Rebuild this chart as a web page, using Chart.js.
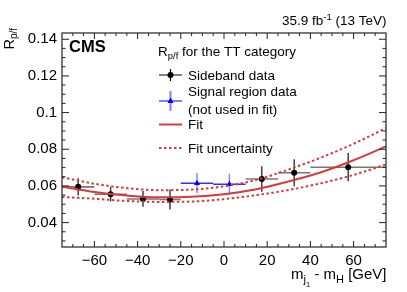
<!DOCTYPE html>
<html>
<head>
<meta charset="utf-8">
<script src="https://cdn.jsdelivr.net/npm/chart.js@4.4.0/dist/chart.umd.min.js"></script>
<style>
  html, body { margin: 0; padding: 0; background: #fff; }
</style>
</head>
<body>
<canvas id="chart" width="407" height="292"></canvas>
<script>
// sideband data (used in the fit): bin edges, centres, R_p/f and stat. error
const sbLow  = [-75, -60, -45, -30, 10, 25, 40];
const sbHigh = [-60, -45, -30, -20, 25, 40, 75];
const sbX    = [-67.5, -52.5, -37.5, -25, 17.5, 32.5, 57.5];
const sbY    = [0.0595, 0.0555, 0.0529, 0.0526, 0.0638, 0.0672, 0.0702];
const sbErr  = [0.0047, 0.0040, 0.0043, 0.0054, 0.0070, 0.0074, 0.0077];

// signal region data (not used in fit)
const srLow  = [-20, -5];
const srHigh = [-5, 10];
const srX    = [-12.5, 2.5];
const srY    = [0.0615, 0.0609];
const srErr  = [0.0055, 0.0058];

const fitX    = [-75, -60, -45, -30, -15, 0, 15, 30, 45, 60, 75];
const fitY    = [0.0596, 0.0567, 0.0548, 0.0538, 0.0541, 0.0555, 0.0582, 0.0625, 0.0675, 0.0740, 0.0815];
const fitUp   = [0.0647, 0.0612, 0.0588, 0.0577, 0.0580, 0.0598, 0.0633, 0.0690, 0.0755, 0.0830, 0.0915];
const fitDown = [0.0540, 0.0530, 0.0518, 0.0513, 0.0515, 0.0528, 0.0550, 0.0578, 0.0615, 0.0660, 0.0717];

const xTicks = [-60, -40, -20, 0, 20, 40, 60];
const yTicks = [0.04, 0.06, 0.08, 0.1, 0.12, 0.14];

const FONT = "'Liberation Sans', Arial, Helvetica, sans-serif";
const RED = '#d83a3a';

const pts = (xs, ys) => xs.map((x, i) => ({ x: x, y: ys[i] }));

// draw a run of text pieces (sub/superscripts) starting at x
function richText(ctx, parts, x, y, align) {
  let w = 0;
  parts.forEach(p => { ctx.font = (p.bold ? 'bold ' : '') + p.size + 'px ' + FONT; w += ctx.measureText(p.t).width; });
  let cx = align === 'right' ? x - w : x;
  parts.forEach(p => {
    ctx.font = (p.bold ? 'bold ' : '') + p.size + 'px ' + FONT;
    ctx.fillText(p.t, cx, y + (p.dy || 0));
    cx += ctx.measureText(p.t).width;
  });
}

function errorBars(ctx, xs, ys, lo, hi, xv, yv, err, hCol, vCol) {
  for (let i = 0; i < xv.length; i++) {
    const py = ys.getPixelForValue(yv[i]);
    ctx.strokeStyle = hCol;
    ctx.lineWidth = 1.6;
    ctx.beginPath();
    ctx.moveTo(xs.getPixelForValue(lo[i]), py);
    ctx.lineTo(xs.getPixelForValue(hi[i]), py);
    ctx.stroke();
    const px = xs.getPixelForValue(xv[i]);
    ctx.strokeStyle = vCol;
    ctx.lineWidth = 1.4;
    ctx.beginPath();
    ctx.moveTo(px, ys.getPixelForValue(yv[i] + err[i]));
    ctx.lineTo(px, ys.getPixelForValue(yv[i] - err[i]));
    ctx.stroke();
  }
}

const decor = {
  id: 'decor',
  beforeDatasetsDraw(chart) {
    const { ctx, scales: { x, y } } = chart;
    ctx.save();
    errorBars(ctx, x, y, sbLow, sbHigh, sbX, sbY, sbErr, '#777', '#333');
    errorBars(ctx, x, y, srLow, srHigh, srX, srY, srErr, '#3030ff', '#7f7fff');
    ctx.restore();
  },
  afterDraw(chart) {
    const { ctx, chartArea: a, scales: { x, y } } = chart;
    ctx.save();

    // frame and inward ticks on all four sides
    ctx.strokeStyle = '#222';
    ctx.lineWidth = 1.2;
    ctx.strokeRect(a.left, a.top, a.right - a.left, a.bottom - a.top);
    ctx.lineWidth = 1;
    ctx.beginPath();
    for (let v = -70; v <= 70; v += 5) {
      const px = x.getPixelForValue(v);
      const len = v % 20 === 0 ? 6 : 3;
      ctx.moveTo(px, a.bottom); ctx.lineTo(px, a.bottom - len);
      ctx.moveTo(px, a.top); ctx.lineTo(px, a.top + len);
    }
    for (let k = 6; k <= 28; k++) {
      const v = k * 0.005;
      const py = y.getPixelForValue(v);
      const len = k % 4 === 0 ? 7 : 3.5;
      ctx.moveTo(a.left, py); ctx.lineTo(a.left + len, py);
      ctx.moveTo(a.right, py); ctx.lineTo(a.right - len, py);
    }
    ctx.stroke();

    ctx.fillStyle = '#000';
    ctx.textBaseline = 'alphabetic';

    // CMS label and luminosity
    richText(ctx, [{ t: 'CMS', size: 16.5, bold: true }], 69, 52, 'left');
    richText(ctx, [
      { t: '35.9 fb', size: 13.5 },
      { t: '-1', size: 9.5, dy: -5 },
      { t: ' (13 TeV)', size: 13.5 }
    ], 386.5, 25, 'right');

    // axis titles
    richText(ctx, [
      { t: 'm', size: 15 },
      { t: 'j', size: 11, dy: 4 },
      { t: '1', size: 7.5, dy: 8 },
      { t: ' - m', size: 15 },
      { t: 'H', size: 11, dy: 4 },
      { t: ' [GeV]', size: 15 }
    ], 386.5, 279, 'right');
    ctx.save();
    ctx.translate(14, 28);
    ctx.rotate(-Math.PI / 2);
    richText(ctx, [{ t: 'R', size: 14.5 }, { t: 'p/f', size: 10, dy: 3 }], 0, 0, 'right');
    ctx.restore();

    // legend
    const lx0 = 159, lx1 = 182, lxm = 170.5, tx = 188;
    richText(ctx, [
      { t: 'R', size: 13.5 },
      { t: 'p/f', size: 9.5, dy: 3 },
      { t: ' for the TT category', size: 13.5 }
    ], 158, 56, 'left');

    ctx.strokeStyle = '#000';
    ctx.lineWidth = 1.2;
    ctx.beginPath();
    ctx.moveTo(lx0, 75); ctx.lineTo(lx1, 75);
    ctx.moveTo(lxm, 69); ctx.lineTo(lxm, 81);
    ctx.stroke();
    ctx.beginPath(); ctx.arc(lxm, 75, 3, 0, Math.PI * 2); ctx.fill();
    richText(ctx, [{ t: 'Sideband data', size: 13.5 }], tx, 79.5, 'left');

    ctx.strokeStyle = '#7f7fff';
    ctx.lineWidth = 2;
    ctx.beginPath();
    ctx.moveTo(lx0, 101); ctx.lineTo(lx1, 101);
    ctx.moveTo(lxm, 91); ctx.lineTo(lxm, 111);
    ctx.stroke();
    ctx.fillStyle = '#0000ff';
    ctx.beginPath();
    ctx.moveTo(lxm, 97.5); ctx.lineTo(lxm + 3, 103); ctx.lineTo(lxm - 3, 103); ctx.closePath();
    ctx.fill();
    ctx.fillStyle = '#000';
    richText(ctx, [{ t: 'Signal region data', size: 13.5 }], tx, 95.5, 'left');
    richText(ctx, [{ t: '(not used in fit)', size: 13.5 }], tx, 113.5, 'left');

    ctx.strokeStyle = RED;
    ctx.lineWidth = 2;
    ctx.beginPath(); ctx.moveTo(lx0, 124.5); ctx.lineTo(lx1, 124.5); ctx.stroke();
    richText(ctx, [{ t: 'Fit', size: 13.5 }], tx, 129, 'left');

    ctx.setLineDash([2.5, 2.5]);
    ctx.beginPath(); ctx.moveTo(lx0, 148); ctx.lineTo(lx1, 148); ctx.stroke();
    ctx.setLineDash([]);
    richText(ctx, [{ t: 'Fit uncertainty', size: 13.5 }], tx, 152.5, 'left');

    ctx.restore();
  }
};

const tickFont = { family: FONT, size: 15 };

new Chart(document.getElementById('chart'), {
  type: 'scatter',
  data: {
    datasets: [
      {
        label: 'Fit', data: pts(fitX, fitY), showLine: true, order: 1,
        borderColor: RED, borderWidth: 2, pointRadius: 0,
        cubicInterpolationMode: 'monotone'
      },
      {
        label: 'Fit uncertainty (up)', data: pts(fitX, fitUp), showLine: true, order: 1,
        borderColor: RED, borderWidth: 2, borderDash: [2.5, 2.5], pointRadius: 0,
        cubicInterpolationMode: 'monotone'
      },
      {
        label: 'Fit uncertainty (down)', data: pts(fitX, fitDown), showLine: true, order: 1,
        borderColor: RED, borderWidth: 2, borderDash: [2.5, 2.5], pointRadius: 0,
        cubicInterpolationMode: 'monotone'
      },
      {
        label: 'Sideband data', data: pts(sbX, sbY), order: 2,
        pointStyle: 'circle', pointRadius: 3, pointBorderWidth: 0,
        backgroundColor: '#000', borderColor: '#000'
      },
      {
        label: 'Signal region data', data: pts(srX, srY), order: 2,
        pointStyle: 'triangle', pointRadius: 3.5, pointBorderWidth: 0,
        backgroundColor: '#0000ff', borderColor: '#0000ff'
      }
    ]
  },
  options: {
    responsive: false,
    animation: false,
    layout: { padding: { top: 33, right: 21, left: 0, bottom: 0 } },
    plugins: { legend: { display: false }, tooltip: { enabled: false } },
    scales: {
      x: {
        type: 'linear', min: -75, max: 75,
        afterBuildTicks: s => { s.ticks = xTicks.map(v => ({ value: v })); },
        afterFit: s => { s.height = 45; },
        grid: { display: false, drawTicks: false },
        border: { display: false },
        ticks: {
          font: tickFont, color: '#000', padding: 5, maxRotation: 0, autoSkip: false,
          callback: v => (v < 0 ? '\u2212' + (-v) : String(v))
        }
      },
      y: {
        type: 'linear', min: 0.0267, max: 0.1434,
        afterBuildTicks: s => { s.ticks = yTicks.map(v => ({ value: v })); },
        afterFit: s => { s.width = 62; },
        grid: { display: false, drawTicks: false },
        border: { display: false },
        ticks: {
          font: tickFont, color: '#000', padding: 5, autoSkip: false,
          callback: v => String(+v.toFixed(3))
        }
      }
    }
  },
  plugins: [decor]
});
</script>
</body>
</html>
